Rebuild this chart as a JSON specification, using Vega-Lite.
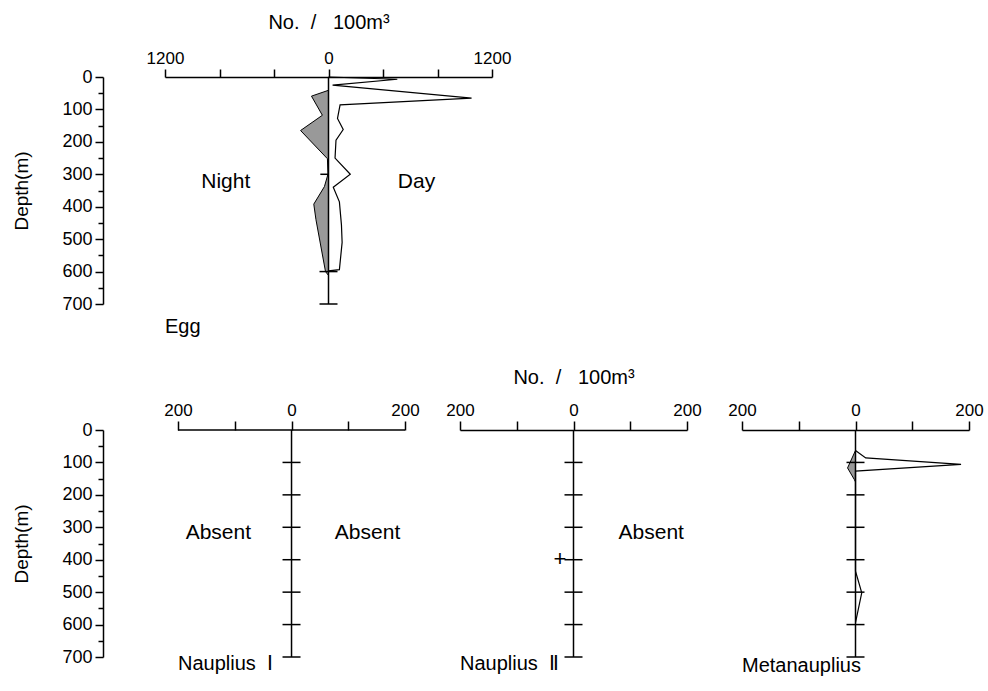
{
  "$schema": "https://vega.github.io/schema/vega-lite/v6.json",
  "padding": {"left": 12, "top": 12, "right": 5, "bottom": 5},
  "config": {
    "font": "Liberation Sans",
    "view": {"stroke": null},
    "axis": {"domainColor": "#000", "tickColor": "#000", "labelColor": "#000", "titleColor": "#000", "domainWidth": 1.5, "tickWidth": 1.5, "grid": false, "labelFontSize": 17, "titleFontSize": 19, "titleFontWeight": "normal", "labelFlush": false, "labelOverlap": false},
    "text": {"fontSize": 20, "color": "#000"}
  },
  "datasets": {
    "eggNight": [{"depth":41,"n":0},{"depth":59,"n":-125},{"depth":118,"n":-45},{"depth":165,"n":-205},{"depth":252,"n":-8},{"depth":300,"n":-4},{"depth":338,"n":-30},{"depth":392,"n":-108},{"depth":440,"n":-92},{"depth":600,"n":-22},{"depth":612,"n":0}],
    "eggDay": [{"depth":0,"n":0},{"depth":7,"n":505},{"depth":25,"n":30},{"depth":65,"n":1050},{"depth":86,"n":85},{"depth":128,"n":66},{"depth":162,"n":108},{"depth":195,"n":55},{"depth":250,"n":48},{"depth":300,"n":160},{"depth":340,"n":35},{"depth":385,"n":80},{"depth":456,"n":95},{"depth":510,"n":100},{"depth":594,"n":80},{"depth":598,"n":0}],
    "metaNight": [{"depth":63,"n":0},{"depth":117,"n":-14},{"depth":153,"n":-2},{"depth":160,"n":0}],
    "metaDay": [{"depth":63,"n":0},{"depth":86,"n":18},{"depth":106,"n":186},{"depth":127,"n":0},{"depth":435,"n":0},{"depth":502,"n":11},{"depth":594,"n":0}],
    "eggTicks": [{"d":600},{"d":700}],
    "stdTicks": [{"d":100},{"d":200},{"d":300},{"d":400},{"d":500},{"d":600},{"d":700}],
    "one": [{}]
  },
  "spacing": 29,
  "vconcat": [
    {
      "width": 327,
      "height": 227,
      "resolve": {"axis": {"y": "independent"}},
      "layer": [
        {
          "data": {"name": "eggNight"},
          "mark": {"type": "area", "orient": "horizontal", "fill": "#999999", "stroke": "#000", "strokeWidth": 1, "opacity": 1},
          "encoding": {
            "y": {"field": "depth", "type": "quantitative", "scale": {"domain": [0, 700], "reverse": true, "nice": false, "zero": false},
              "axis": {"orient": "left", "title": "Depth(m)", "offset": 62, "values": [0,100,200,300,400,500,600,700], "tickSize": 8, "labelPadding": 3, "titlePadding": 30, "labelOverlap": false, "labelFontSize": 18}},
            "x": {"field": "n", "type": "quantitative", "scale": {"domain": [-1200, 1200], "nice": false},
              "axis": {"orient": "top", "title": "No.\u00a0\u00a0/\u00a0\u00a0\u00a0100m³", "titleFontSize": 20, "values": [-1200,-1000,-800,-600,-400,-200,0,200,400,600,800,1000,1200], "labelExpr": "datum.value == 0 || abs(datum.value) == 1200 ? format(abs(datum.value), 'd') : ''", "tickSize": 8, "labelPadding": 2, "titlePadding": 17, "labelOverlap": false}},
            "x2": {"datum": 0}
          }
        },
        {
          "data": {"name": "eggDay"},
          "mark": {"type": "line", "color": "#000", "strokeWidth": 1.2},
          "encoding": {"y": {"field": "depth", "type": "quantitative", "axis": null}, "x": {"field": "n", "type": "quantitative"}, "order": {"field": "depth"}}
        },
        {
          "data": {"name": "one"},
          "mark": {"type": "rule", "color": "#000", "strokeWidth": 1.5},
          "encoding": {"x": {"datum": 0}, "y": {"datum": 0, "axis": null}, "y2": {"datum": 700}}
        },
        {
          "data": {"name": "one"},
          "mark": {"type": "rule", "color": "#000", "strokeWidth": 1.5},
          "encoding": {"x": {"datum": -60}, "x2": {"datum": 0}, "y": {"datum": 300, "axis": null}}
        },
        {
          "data": {"name": "eggTicks"},
          "mark": {"type": "tick", "orient": "horizontal", "size": 18, "thickness": 1.5, "color": "#000", "opacity": 1},
          "encoding": {"y": {"field": "d", "type": "quantitative", "axis": {"orient": "left", "offset": 62, "title": null, "labels": false, "domain": false, "tickSize": 5, "values": [50,150,250,350,450,550,650]}}, "x": {"datum": 0}}
        },
        {
          "data": {"values": [{"label": "Night", "n": -754, "depth": 325}, {"label": "Day", "n": 646, "depth": 325}]},
          "mark": {"type": "text", "fontSize": 21, "align": "center", "baseline": "middle"},
          "encoding": {"y": {"field": "depth", "type": "quantitative", "axis": null}, "x": {"field": "n", "type": "quantitative"}, "text": {"field": "label"}}
        },
        {
          "data": {"values": [{"label": "Egg", "n": -1200, "depth": 771}]},
          "mark": {"type": "text", "fontSize": 20, "align": "left", "baseline": "middle"},
          "encoding": {"y": {"field": "depth", "type": "quantitative", "axis": null}, "x": {"field": "n", "type": "quantitative"}, "text": {"field": "label"}}
        }
      ]
    },
    {
      "bounds": "flush",
      "spacing": 55,
      "hconcat": [
        {
          "width": 240,
          "height": 227,
          "resolve": {"axis": {"y": "independent"}},
          "layer": [
            {
              "data": {"name": "stdTicks"},
              "mark": {"type": "tick", "orient": "horizontal", "size": 18, "thickness": 1.5, "color": "#000", "opacity": 1},
              "encoding": {
                "y": {"field": "d", "type": "quantitative", "scale": {"domain": [0, 700], "reverse": true, "nice": false, "zero": false},
                  "axis": {"orient": "left", "title": "Depth(m)", "offset": 62, "values": [0,100,200,300,400,500,600,700], "tickSize": 8, "labelPadding": 3, "titlePadding": 30, "labelOverlap": false, "labelFontSize": 18}},
                "x": {"datum": 0, "type": "quantitative", "scale": {"domain": [-223, 200], "nice": false},
                  "axis": {"orient": "top", "title": null, "domain": false, "values": [-200,-100,0,100,200], "labelExpr": "abs(datum.value) == 200 || datum.value == 0 ? format(abs(datum.value), 'd') : ''", "tickSize": 9, "labelPadding": 2, "labelOverlap": false}}
              }
            },
            {
              "data": {"name": "one"},
              "mark": {"type": "rule", "color": "#000", "strokeWidth": 1.5},
              "encoding": {"x": {"datum": -200}, "x2": {"datum": 200}, "y": {"datum": 0, "axis": {"orient": "left", "offset": 62, "title": null, "labels": false, "domain": false, "tickSize": 5, "values": [50,150,250,350,450,550,650]}}}
            },
            {
              "data": {"name": "one"},
              "mark": {"type": "rule", "color": "#000", "strokeWidth": 1.5},
              "encoding": {"x": {"datum": 0}, "y": {"datum": 0, "axis": null}, "y2": {"datum": 700}}
            },
            {
              "data": {"values": [{"label": "Absent", "n": -129, "depth": 319}, {"label": "Absent", "n": 134, "depth": 319}]},
              "mark": {"type": "text", "fontSize": 21, "align": "center", "baseline": "middle"},
              "encoding": {"y": {"field": "depth", "type": "quantitative", "axis": null}, "x": {"field": "n", "type": "quantitative"}, "text": {"field": "label"}}
            },
            {
              "data": {"values": [{"label": "Nauplius\u00a0\u00a0Ⅰ", "n": -200, "depth": 722}]},
              "mark": {"type": "text", "fontSize": 20, "align": "left", "baseline": "middle"},
              "encoding": {"y": {"field": "depth", "type": "quantitative", "axis": null}, "x": {"field": "n", "type": "quantitative"}, "text": {"field": "label"}}
            }
          ]
        },
        {
          "width": 227,
          "height": 227,
          "layer": [
            {
              "data": {"name": "stdTicks"},
              "mark": {"type": "tick", "orient": "horizontal", "size": 18, "thickness": 1.5, "color": "#000", "opacity": 1},
              "encoding": {
                "y": {"field": "d", "type": "quantitative", "scale": {"domain": [0, 700], "reverse": true, "nice": false, "zero": false}, "axis": null},
                "x": {"datum": 0, "type": "quantitative", "scale": {"domain": [-200, 200], "nice": false},
                  "axis": {"orient": "top", "title": "No.\u00a0\u00a0/\u00a0\u00a0\u00a0100m³", "titleFontSize": 20, "titlePadding": 14, "values": [-200,-100,0,100,200], "labelExpr": "abs(datum.value) == 200 || datum.value == 0 ? format(abs(datum.value), 'd') : ''", "tickSize": 9, "labelPadding": 2, "labelOverlap": false}}
              }
            },
            {
              "data": {"name": "one"},
              "mark": {"type": "rule", "color": "#000", "strokeWidth": 1.5},
              "encoding": {"x": {"datum": 0}, "y": {"datum": 0}, "y2": {"datum": 700}}
            },
            {
              "data": {"values": [{"label": "Absent", "n": 137, "depth": 319}]},
              "mark": {"type": "text", "fontSize": 21, "align": "center", "baseline": "middle"},
              "encoding": {"y": {"field": "depth", "type": "quantitative"}, "x": {"field": "n", "type": "quantitative"}, "text": {"field": "label"}}
            },
            {
              "data": {"values": [{"label": "+", "n": -24, "depth": 398}]},
              "mark": {"type": "text", "fontSize": 22, "align": "center", "baseline": "middle"},
              "encoding": {"y": {"field": "depth", "type": "quantitative"}, "x": {"field": "n", "type": "quantitative"}, "text": {"field": "label"}}
            },
            {
              "data": {"values": [{"label": "Nauplius\u00a0\u00a0Ⅱ", "n": -200, "depth": 722}]},
              "mark": {"type": "text", "fontSize": 20, "align": "left", "baseline": "middle"},
              "encoding": {"y": {"field": "depth", "type": "quantitative"}, "x": {"field": "n", "type": "quantitative"}, "text": {"field": "label"}}
            }
          ]
        },
        {
          "width": 227,
          "height": 227,
          "layer": [
            {
              "data": {"name": "metaNight"},
              "mark": {"type": "area", "orient": "horizontal", "fill": "#999999", "stroke": "#000", "strokeWidth": 1, "opacity": 1},
              "encoding": {
                "y": {"field": "depth", "type": "quantitative", "scale": {"domain": [0, 700], "reverse": true, "nice": false, "zero": false}, "axis": null},
                "x": {"field": "n", "type": "quantitative", "scale": {"domain": [-200, 200], "nice": false},
                  "axis": {"orient": "top", "title": null, "values": [-200,-100,0,100,200], "labelExpr": "abs(datum.value) == 200 || datum.value == 0 ? format(abs(datum.value), 'd') : ''", "tickSize": 9, "labelPadding": 2, "labelOverlap": false}},
                "x2": {"datum": 0}
              }
            },
            {
              "data": {"name": "metaDay"},
              "mark": {"type": "line", "color": "#000", "strokeWidth": 1.2},
              "encoding": {"y": {"field": "depth", "type": "quantitative"}, "x": {"field": "n", "type": "quantitative"}, "order": {"field": "depth"}}
            },
            {
              "data": {"name": "one"},
              "mark": {"type": "rule", "color": "#000", "strokeWidth": 1.5},
              "encoding": {"x": {"datum": 0}, "y": {"datum": 0}, "y2": {"datum": 700}}
            },
            {
              "data": {"name": "stdTicks"},
              "mark": {"type": "tick", "orient": "horizontal", "size": 18, "thickness": 1.5, "color": "#000", "opacity": 1},
              "encoding": {"y": {"field": "d", "type": "quantitative"}, "x": {"datum": 0}}
            },
            {
              "data": {"values": [{"label": "Metanauplius", "n": -200, "depth": 727}]},
              "mark": {"type": "text", "fontSize": 20, "align": "left", "baseline": "middle"},
              "encoding": {"y": {"field": "depth", "type": "quantitative"}, "x": {"field": "n", "type": "quantitative"}, "text": {"field": "label"}}
            }
          ]
        }
      ]
    }
  ]
}
